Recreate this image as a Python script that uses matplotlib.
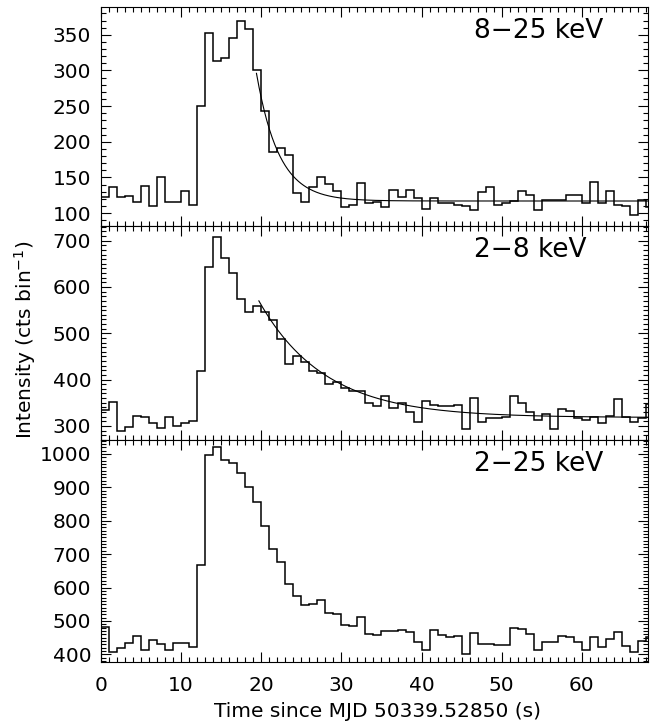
import numpy as np
import matplotlib
matplotlib.use("Agg")
import matplotlib.pyplot as plt
from matplotlib.ticker import MultipleLocator

# ---------------- DATA (1 s bins, t = 0..69 s) ----------------
edges = np.arange(0, 70)

hard = [123, 136, 122, 124, 116, 138, 110, 150, 116, 116,
        131, 112, 250, 352, 313, 317, 346, 370, 358, 300,
        243, 186, 191, 182, 128, 115, 136, 151, 141, 131,
        108, 111, 142, 114, 116, 108, 132, 122, 133, 121,
        106, 121, 114, 114, 111, 110, 105, 129, 136, 111,
        114, 117, 131, 125, 105, 119, 118, 118, 126, 126,
        114, 143, 114, 131, 112, 110, 98, 118, 108]

soft = [334, 351, 289, 298, 321, 319, 306, 296, 319, 300,
        306, 311, 419, 644, 709, 662, 630, 574, 547, 560,
        545, 529, 487, 434, 452, 439, 419, 414, 390, 395,
        381, 376, 376, 350, 344, 365, 339, 349, 331, 309,
        354, 345, 342, 342, 345, 293, 361, 309, 316, 318,
        319, 365, 349, 331, 313, 326, 293, 336, 333, 318,
        313, 319, 306, 321, 358, 320, 309, 318, 347]

total = [482, 407, 419, 435, 454, 412, 442, 430, 412, 435,
         435, 421, 667, 997, 1022, 982, 974, 942, 902, 857,
         784, 714, 675, 612, 576, 547, 550, 563, 525, 522,
         489, 485, 512, 460, 457, 470, 469, 472, 467, 437,
         412, 472, 457, 452, 454, 400, 464, 432, 432, 427,
         427, 479, 477, 462, 412, 437, 437, 454, 452, 437,
         412, 452, 422, 447, 467, 425, 407, 439, 452]

bands = ["8\u221225 keV", "2\u22128 keV", "2\u221225 keV"]

# exponential decay fits: (start time, amplitude, e-fold time, background)
fit_hard = (19.4, 179.0, 2.8, 117.0)
fit_soft = (19.7, 252.0, 8.2, 318.0)

XMAX = 68.25
# ---------------------------------------------------------------

fig = plt.figure(figsize=(6.55, 7.28), dpi=100)
plt.rcParams['font.family'] = ['DejaVu Sans']

left, width = 0.1542, 0.835
panels = [
    (0.6896, 0.3008, hard, (82, 389), 50, 10, fit_hard),
    (0.3956, 0.2940, soft, (269.5, 731.8), 100, 10, fit_soft),
    (0.0907, 0.3050, total, (377, 1042), 100, 10, None),
]

for i, (y0, h, vals, ylim, major, minor, fit) in enumerate(panels):
    ax = fig.add_axes([left, y0, width, h])
    ax.stairs(vals, edges, baseline=None, color="black", linewidth=1.1)
    if fit is not None:
        t0, amp, tau, bkg = fit
        tt = np.linspace(t0, XMAX, 300)
        ax.plot(tt, bkg + amp * np.exp(-(tt - t0) / tau), color="black", linewidth=0.8)
    ax.set_xlim(0, XMAX)
    ax.set_ylim(*ylim)
    ax.xaxis.set_major_locator(MultipleLocator(10))
    ax.xaxis.set_minor_locator(MultipleLocator(1))
    ax.yaxis.set_major_locator(MultipleLocator(major))
    ax.yaxis.set_minor_locator(MultipleLocator(minor))
    ax.tick_params(which="both", direction="in", top=True, right=True, width=0.8)
    ax.tick_params(which="major", length=7, labelsize=14.5)
    ax.tick_params(which="minor", length=3.5)
    ax.tick_params(axis="y", which="major", pad=7)
    ax.tick_params(axis="x", which="major", pad=10)
    if i < 2:
        ax.tick_params(labelbottom=False)
    for s in ax.spines.values():
        s.set_linewidth(0.8)
    ax.text(0.682, 0.89, bands[i], transform=ax.transAxes, fontsize=19,
            ha="left", va="center")

fig.text(0.577, 0.022, "Time since MJD 50339.52850 (s)", ha="center", va="center",
         fontsize=14.5)
fig.text(0.038, 0.533, r"Intensity (cts bin$^{-1}$)", ha="center", va="center",
         rotation=90, fontsize=14.5)

plt.savefig("out.png", dpi=100)
